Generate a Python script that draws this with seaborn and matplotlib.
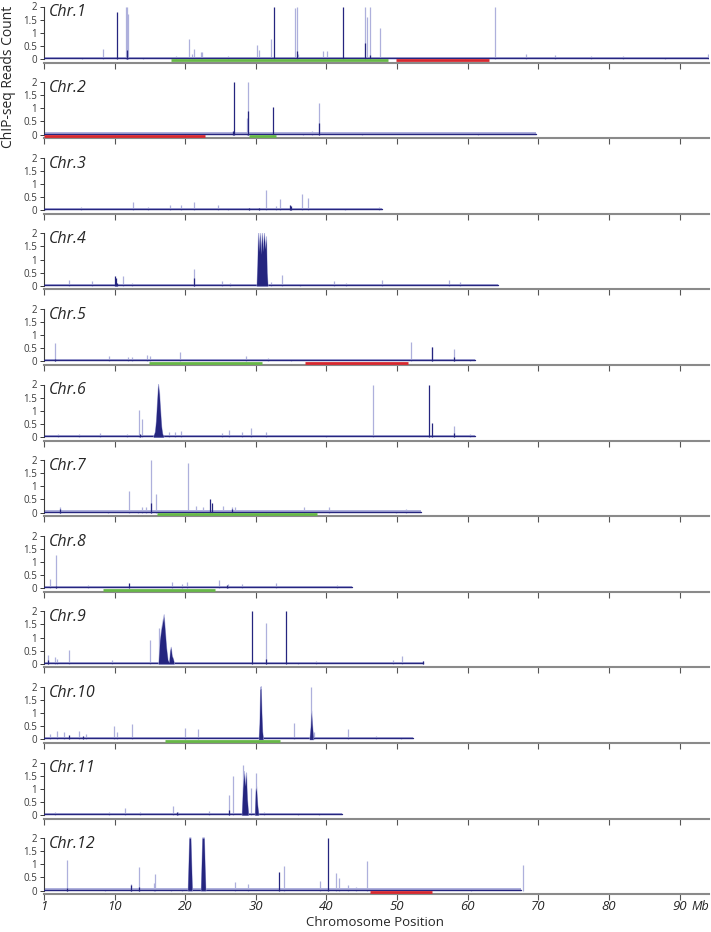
import matplotlib
matplotlib.use("Agg")
import matplotlib.pyplot as plt
import seaborn as sns

sns.set_style("ticks")
plt.rcParams["font.family"] = ["Open Sans", "DejaVu Sans"]

# === Chromosomes (Mb) ===
chrom_names = ["Chr.%d" % i for i in range(1, 13)]
chrom_len = [94.0, 69.7, 47.8, 64.3, 61.0, 61.0, 53.4, 43.6, 53.7, 52.3, 42.2, 67.6]

# === Single spikes (position Mb, reads count): pale = all reads, dark = unique ===
light_spikes = [
    [(5.4, 0.08), (8.4, 0.38), (11.6, 2.0), (11.75, 2.0), (11.85, 1.7), (14.0, 0.06), (18.7, 0.1),
     (20.5, 0.75), (20.9, 0.2), (21.2, 0.4), (22.2, 0.28), (22.4, 0.28), (26.0, 0.1), (30.2, 0.55),
     (30.5, 0.35), (32.1, 0.78), (35.5, 1.95), (35.8, 2.0), (35.9, 0.2), (39.5, 0.3), (40.1, 0.3),
     (45.4, 2.0), (45.7, 1.6), (46.1, 2.0), (47.6, 1.2), (59.6, 0.08), (63.9, 2.0), (68.3, 0.2),
     (72.3, 0.15), (77.5, 0.12), (82.0, 0.1), (88.0, 0.08), (94.0, 0.2)],
    [(20.0, 0.05), (28.7, 0.65), (28.9, 2.0), (36.7, 0.1), (38.0, 0.12), (38.9, 1.2), (45.0, 0.06),
     (61.5, 0.08)],
    [(0.2, 0.1), (5.2, 0.13), (12.6, 0.3), (14.7, 0.13), (17.9, 0.2), (19.4, 0.2), (21.3, 0.33),
     (24.7, 0.2), (26.0, 0.1), (31.5, 0.77), (32.8, 0.15), (33.4, 0.44), (36.6, 0.62), (37.4, 0.46),
     (42.6, 0.08), (47.5, 0.12)],
    [(3.5, 0.22), (6.8, 0.18), (11.2, 0.37), (12.4, 0.1), (21.3, 0.65), (25.2, 0.2), (26.3, 0.1),
     (32.2, 0.15), (33.7, 0.42), (36.3, 0.08), (41.0, 0.2), (42.7, 0.12), (47.9, 0.23), (57.3, 0.22),
     (58.9, 0.15)],
    [(1.6, 0.71), (9.2, 0.2), (11.9, 0.15), (12.5, 0.15), (14.6, 0.24), (15.0, 0.2), (19.2, 0.35),
     (28.6, 0.2), (31.7, 0.12), (35.0, 0.08), (52.0, 0.73), (54.9, 0.54), (58.1, 0.47), (60.3, 0.1)],
    [(2.0, 0.1), (5.0, 0.1), (8.0, 0.15), (11.8, 0.1), (13.4, 1.04), (13.9, 0.7), (17.7, 0.2),
     (18.6, 0.2), (19.4, 0.22), (25.2, 0.15), (26.2, 0.25), (28.0, 0.2), (29.3, 0.35), (31.5, 0.2),
     (40.0, 0.08), (46.6, 2.0), (58.0, 0.42), (60.3, 0.12)],
    [(2.3, 0.2), (9.1, 0.08), (12.0, 0.82), (13.3, 0.1), (13.9, 0.2), (14.4, 0.2), (15.1, 2.0),
     (15.9, 0.7), (20.4, 1.9), (21.5, 0.25), (22.5, 0.2), (25.3, 0.25), (26.6, 0.2), (27.1, 0.22),
     (31.5, 0.1), (36.8, 0.2), (40.4, 0.22), (49.8, 0.1), (51.3, 0.12)],
    [(0.84, 0.36), (1.7, 1.25), (6.2, 0.12), (18.1, 0.25), (19.5, 0.15), (20.2, 0.22), (24.8, 0.3),
     (26.0, 0.15), (28.0, 0.15), (32.9, 0.18), (41.5, 0.12)],
    [(0.6, 0.35), (1.6, 0.27), (1.9, 0.2), (3.6, 0.52), (9.7, 0.15), (15.0, 0.9), (16.3, 1.35),
     (31.5, 1.56), (36.0, 0.08), (38.5, 0.1), (49.4, 0.15), (50.7, 0.28), (53.6, 0.12)],
    [(0.8, 0.2), (1.8, 0.33), (2.9, 0.3), (4.9, 0.33), (6.0, 0.2), (9.9, 0.5), (10.4, 0.3),
     (12.5, 0.6), (20.0, 0.45), (21.8, 0.4), (35.4, 0.62), (37.8, 2.0), (38.3, 0.3), (43.0, 0.4),
     (47.0, 0.12), (50.5, 0.1)],
    [(1.6, 0.1), (9.2, 0.13), (11.5, 0.25), (13.6, 0.1), (18.2, 0.34), (19.0, 0.1), (23.3, 0.15),
     (26.2, 0.78), (26.8, 1.48), (28.2, 1.9), (28.6, 1.6), (29.3, 1.02), (30.0, 1.6), (31.1, 0.12),
     (36.0, 0.08), (38.9, 0.05)],
    [(3.3, 1.16), (8.6, 0.1), (12.3, 0.25), (13.4, 0.9), (15.6, 0.3), (15.7, 0.62), (18.0, 0.1),
     (19.5, 0.1), (27.1, 0.33), (28.9, 0.25), (34.0, 0.92), (39.1, 0.35), (41.3, 0.66), (41.8, 0.48),
     (43.0, 0.2), (44.2, 0.12), (45.8, 1.13), (60.4, 0.1), (67.8, 0.97)],
]

dark_spikes = [
    [(10.4, 1.78), (11.7, 0.35), (32.5, 2.0), (35.8, 0.3), (42.3, 2.0), (45.4, 0.6), (46.1, 0.15)],
    [(26.7, 0.12), (26.9, 2.0), (28.9, 0.9), (32.4, 1.05), (38.9, 0.45)],
    [(29.0, 0.08), (30.5, 0.1), (34.9, 0.2), (35.0, 0.15)],
    [(10.0, 0.38), (10.2, 0.3), (10.4, 0.1), (21.3, 0.3)],
    [(1.6, 0.1), (54.9, 0.54), (58.1, 0.15)],
    [(13.6, 0.1), (54.5, 2.0), (54.9, 0.53), (58.1, 0.15)],
    [(2.3, 0.15), (15.1, 0.35), (23.5, 0.5), (23.8, 0.35), (26.6, 0.15)],
    [(1.7, 0.1), (12.1, 0.2), (25.9, 0.12)],
    [(0.6, 0.15), (29.5, 2.0), (31.5, 0.2), (34.2, 2.0), (53.6, 0.12)],
    [(3.5, 0.15), (5.5, 0.12)],
    [(18.9, 0.1), (26.2, 0.2)],
    [(3.3, 0.1), (12.3, 0.22), (13.4, 0.12), (33.3, 0.72), (40.2, 2.0)],
]

# === Dense enrichment regions, profile points (Mb, reads count) ===
dense_peaks = [
    [], [], [],
    [[(30.1, 0.05), (30.2, 0.8), (30.3, 2.0), (30.4, 1.3), (30.55, 2.0), (30.7, 1.2), (30.85, 2.0),
      (31.0, 1.3), (31.15, 2.0), (31.3, 1.4), (31.45, 1.8), (31.55, 0.5), (31.65, 0.05)]],
    [],
    [[(15.5, 0.05), (15.7, 0.2), (15.85, 0.6), (16.0, 1.3), (16.15, 2.0), (16.3, 1.65), (16.45, 1.0),
      (16.6, 0.4), (16.75, 0.12), (16.9, 0.05)]],
    [], [],
    [[(16.2, 0.05), (16.4, 0.9), (16.6, 1.3), (16.8, 1.6), (16.95, 1.8), (17.1, 1.3), (17.3, 0.6),
      (17.5, 0.15), (17.7, 0.05), (17.85, 0.5), (17.95, 0.62), (18.1, 0.3), (18.25, 0.2), (18.4, 0.05)]],
    [[(30.4, 0.05), (30.5, 0.6), (30.6, 1.9), (30.7, 1.95), (30.8, 1.0), (30.9, 0.3), (31.0, 0.08)],
     [(37.6, 0.05), (37.75, 0.5), (37.85, 1.05), (37.95, 0.6), (38.1, 0.1)]],
    [[(28.0, 0.05), (28.15, 1.0), (28.3, 1.6), (28.45, 1.1), (28.6, 1.55), (28.75, 0.6), (28.9, 0.1)],
     [(29.85, 0.05), (29.95, 0.9), (30.05, 1.05), (30.2, 0.4), (30.35, 0.05)]],
    [[(20.35, 0.05), (20.45, 1.0), (20.55, 2.0), (20.75, 2.0), (20.85, 1.0), (20.95, 0.1)],
     [(22.2, 0.05), (22.3, 1.0), (22.4, 2.0), (22.65, 2.0), (22.75, 1.0), (22.85, 0.1)]],
]

# === Marked intervals (Mb) ===
green_regions = [[(18.0, 48.7)], [(29.0, 32.8)], [], [], [(14.8, 30.9)], [], [(16.0, 38.6)],
                 [(8.4, 24.2)], [], [(17.1, 33.4)], [], []]
red_regions = [[(49.8, 63.0)], [(0.0, 22.8)], [], [], [(36.9, 51.6)], [], [], [], [], [], [],
               [(46.1, 55.0)]]

x_ticks = [0, 10, 20, 30, 40, 50, 60, 70, 80, 90]
x_ticklabels = ["1", "10", "20", "30", "40", "50", "60", "70", "80", "90"]
y_ticks = [0, 0.5, 1, 1.5, 2]
y_ticklabels = ["0", "0.5", "1", "1.5", "2"]

navy = "#25257f"
pale = "#aeb0dc"
green = "#67b847"
red = "#d8282f"

W, H = 711, 932
fig = plt.figure(figsize=(W / 100, H / 100), dpi=100)

y_lo, y_hi = -0.135, 2.03
px_per_unit = 26.25
for i, name in enumerate(chrom_names):
    zero = 59 + 75.6 * i
    bottom_px = zero - y_lo * px_per_unit
    height_px = (y_hi - y_lo) * px_per_unit
    ax = fig.add_axes([44 / W, 1 - bottom_px / H, 664.5 / W, height_px / H])
    ax.set_xlim(0, 94.1)
    ax.set_ylim(y_lo, y_hi)

    L = chrom_len[i]
    ax.fill_between([0, L], 0, 0.08, color=pale, lw=0, zorder=1)
    ax.plot([0, L], [0.04, 0.04], color=navy, lw=1.0, zorder=3)

    lp = light_spikes[i]
    ax.vlines([p for p, h in lp], 0, [h for p, h in lp], color=pale, lw=0.9, zorder=2)
    dp = dark_spikes[i]
    ax.vlines([p for p, h in dp], 0, [h for p, h in dp], color=navy, lw=0.9, zorder=4)
    for prof in dense_peaks[i]:
        xs = [p for p, h in prof]
        ys = [h for p, h in prof]
        ax.fill_between(xs, 0, [min(h * 1.05, 2.03) for h in ys], color=pale, lw=0.6, zorder=3)
        ax.fill_between(xs, 0, ys, color=navy, lw=0, zorder=4)

    for a, b in green_regions[i]:
        ax.plot([a, b], [-0.05, -0.05], color=green, lw=2.0, solid_capstyle="butt", zorder=5)
    for a, b in red_regions[i]:
        ax.plot([a, b], [-0.05, -0.05], color=red, lw=2.0, solid_capstyle="butt", zorder=5)

    sns.despine(ax=ax, top=True, right=True)
    ax.spines["left"].set_bounds(0, 2)
    ax.spines["left"].set_color("#3a3a3a")
    ax.spines["left"].set_linewidth(0.8)
    ax.spines["bottom"].set_color("#8a8a8a")
    ax.spines["bottom"].set_linewidth(1.5)

    ax.set_yticks(y_ticks)
    ax.set_yticklabels(y_ticklabels, fontsize=7)
    ax.tick_params(axis="y", length=3, width=0.7, pad=2, colors="#3a3a3a")
    ax.set_xticks(x_ticks)
    ax.tick_params(axis="x", length=4, width=0.8, color="#555555", pad=0.5)
    if i == len(chrom_names) - 1:
        ax.set_xticklabels(x_ticklabels, fontsize=9.5, style="italic")
        ax.annotate("Mb", xy=(90, y_lo), xycoords="data", xytext=(8.5, -4.5),
                    textcoords="offset points", fontsize=9, style="italic",
                    ha="left", va="top")
    else:
        ax.set_xticklabels([])

    ax.text(0.7, 2.08, name, fontsize=11.5, style="italic", ha="left", va="top", zorder=6)

fig.text(375 / W, 1 - 923 / H, "Chromosome Position", fontsize=9.5, ha="center", va="center")
fig.text(9 / W, 1 - 77 / H, "ChIP-seq Reads Count", rotation=90, fontsize=10,
         ha="center", va="center")

fig.savefig("out.png", dpi=100)
